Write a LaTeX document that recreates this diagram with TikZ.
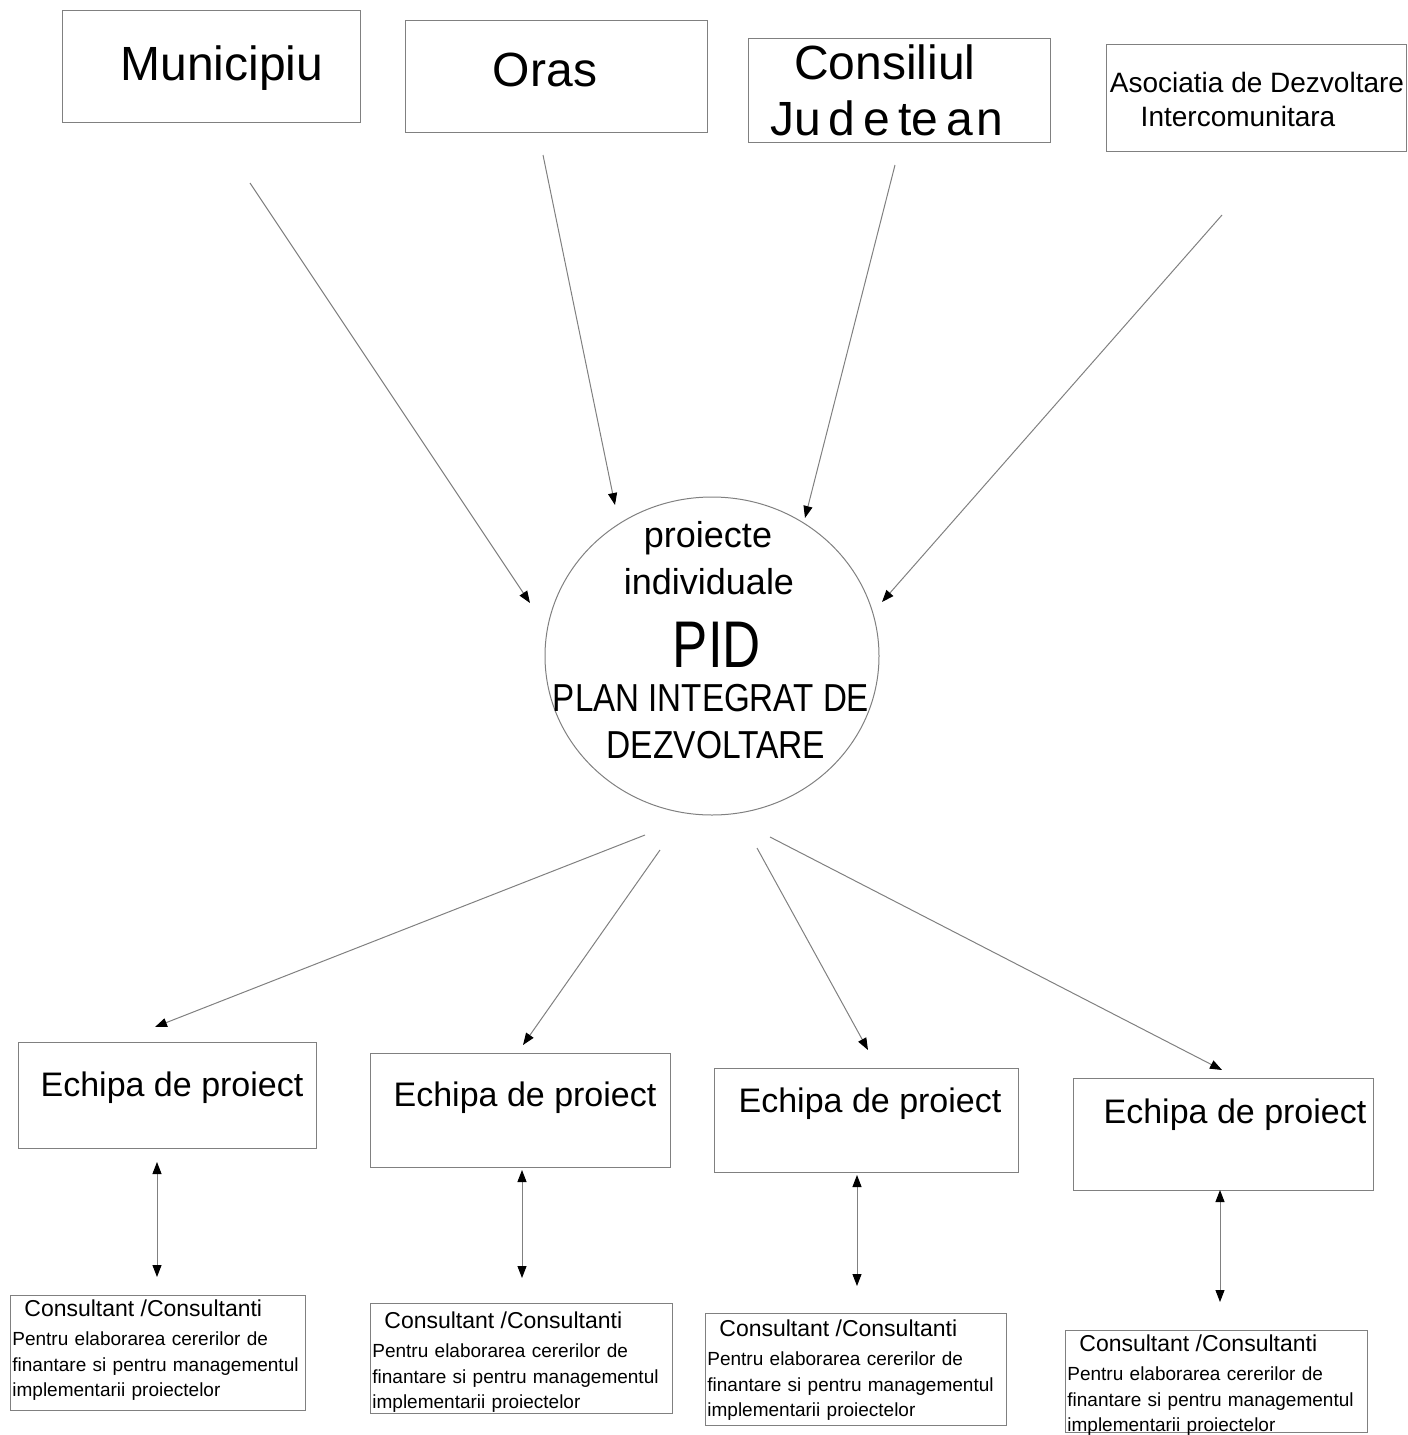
\documentclass[tikz,border=0pt]{standalone}
\usepackage{fontspec}
\setmainfont{Liberation Sans}
\usetikzlibrary{arrows.meta,shapes.geometric}
\tikzset{
  box/.style={draw=black!50, line width=0.5pt, rectangle, inner sep=0pt},
  conn/.style={draw=black!50, line width=0.5pt, -{Triangle[length=6pt,width=4.5pt,black]}},
  dconn/.style={draw=black!50, line width=0.5pt, {Triangle[length=6pt,width=4.5pt,black]}-{Triangle[length=6pt,width=4.5pt,black]}},
  txt/.style={inner sep=0pt, anchor=center},
  big/.style={font=\fontsize{24}{28}\selectfont},
  ech/.style={font=\fontsize{17}{20}\selectfont},
  cons/.style={inner sep=0pt, anchor=north west, align=left, text width=146pt, font=\fontsize{9.5}{12.8}\selectfont},
}
\newcommand{\conshead}{{\fontsize{11.5}{13}\selectfont\hspace*{6pt}Consultant /Consultanti}\\[2pt]Pentru elaborarea cererilor de\\finantare si pentru managementul\\implementarii proiectelor}
\begin{document}
\begin{tikzpicture}[x=0.5pt,y=-0.5pt]
\useasboundingbox (0,0) rectangle (1408,1435);
% top boxes
\node[box, minimum width=149pt, minimum height=56pt] (mun) at (211,66) {};
\node[txt, big] (munt) at (222,68) {Municipiu};
\node[box, minimum width=151pt, minimum height=56pt] (ora) at (556,76) {};
\node[txt, big] (orat) at (545,70) {Oras};
\node[box, minimum width=151pt, minimum height=52pt] (cj) at (899,90) {};
\node[txt, big] (cjt1) at (885,62) {Consiliul};
\node[txt, big] (cjt2) at (887,118) {Ju\,d\,e\,te\,a\hspace{0.08em}n};
\node[box, minimum width=150pt, minimum height=53.5pt] (adi) at (1256,98) {};
\node[txt, font=\fontsize{14}{16}\selectfont] (adit1) at (1257,82) {Asociatia de Dezvoltare};
\node[txt, font=\fontsize{14}{16}\selectfont] (adit2) at (1238,116) {Intercomunitara};
% circle
\node[draw=black!50, line width=0.5pt, ellipse, minimum width=167pt, minimum height=159pt, inner sep=0pt] (pid) at (712,656) {};
\node[txt, font=\fontsize{18}{20}\selectfont] (pt1) at (708,538) {proiecte};
\node[txt, font=\fontsize{18}{20}\selectfont] (pt2) at (709,582) {individuale};
\node[txt, font=\fontsize{33}{36}\selectfont] (pt3) at (717,645) {\scalebox{0.8}[1]{PID}};
\node[txt, font=\fontsize{19.5}{22}\selectfont] (pt4) at (711,698) {\scalebox{0.85}[1]{PLAN INTEGRAT DE}};
\node[txt, font=\fontsize{19.5}{22}\selectfont] (pt5) at (716,745) {\scalebox{0.86}[1]{DEZVOLTARE}};
% arrows in
\coordinate (a1s) at (250,183); \coordinate (a1e) at (530,603);
\coordinate (a2s) at (543,155); \coordinate (a2e) at (615,505);
\coordinate (a3s) at (895,165); \coordinate (a3e) at (805,518);
\coordinate (a4s) at (1222,215); \coordinate (a4e) at (882,602);
\draw[conn] (a1s) -- (a1e);
\draw[conn] (a2s) -- (a2e);
\draw[conn] (a3s) -- (a3e);
\draw[conn] (a4s) -- (a4e);
% arrows out
\coordinate (b1s) at (645,835); \coordinate (b1e) at (155,1027);
\coordinate (b2s) at (660,850); \coordinate (b2e) at (523,1045);
\coordinate (b3s) at (757,848); \coordinate (b3e) at (868,1050);
\coordinate (b4s) at (770,837); \coordinate (b4e) at (1222,1070);
\draw[conn] (b1s) -- (b1e);
\draw[conn] (b2s) -- (b2e);
\draw[conn] (b3s) -- (b3e);
\draw[conn] (b4s) -- (b4e);
% Echipa boxes
\node[box, minimum width=149pt, minimum height=53pt] (e1) at (167,1095) {};
\node[txt, ech] (e1t) at (172,1088) {Echipa de proiect};
\node[box, minimum width=150pt, minimum height=57pt] (e2) at (520,1110) {};
\node[txt, ech] (e2t) at (525,1098) {Echipa de proiect};
\node[box, minimum width=152pt, minimum height=52pt] (e3) at (866,1120) {};
\node[txt, ech] (e3t) at (870,1104) {Echipa de proiect};
\node[box, minimum width=150pt, minimum height=56pt] (e4) at (1223,1134) {};
\node[txt, ech] (e4t) at (1235,1115) {Echipa de proiect};
% double arrows
\coordinate (d1s) at (157,1162); \coordinate (d1e) at (157,1277);
\coordinate (d2s) at (522,1170); \coordinate (d2e) at (522,1278);
\coordinate (d3s) at (857,1175); \coordinate (d3e) at (857,1286);
\coordinate (d4s) at (1220,1190); \coordinate (d4e) at (1220,1302);
\draw[dconn] (d1s) -- (d1e);
\draw[dconn] (d2s) -- (d2e);
\draw[dconn] (d3s) -- (d3e);
\draw[dconn] (d4s) -- (d4e);
% Consultant boxes
\node[box, minimum width=147.5pt, minimum height=57.5pt] (c1) at (157.5,1352.5) {};
\node[cons] (c1t) at (12,1299) {\conshead};
\node[box, minimum width=151pt, minimum height=55pt] (c2) at (521,1358) {};
\node[cons] (c2t) at (372,1311) {\conshead};
\node[box, minimum width=150.5pt, minimum height=56pt] (c3) at (855.5,1369) {};
\node[cons] (c3t) at (707,1319) {\conshead};
\node[box, minimum width=151pt, minimum height=51pt] (c4) at (1216,1381) {};
\node[cons] (c4t) at (1067,1334) {\conshead};
\end{tikzpicture}
\end{document}
